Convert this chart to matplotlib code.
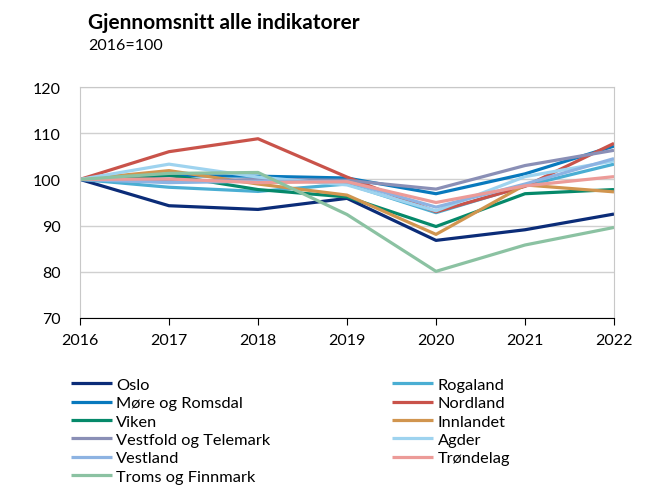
import numpy as np
import matplotlib
matplotlib.use("Agg")
import matplotlib.pyplot as plt

plt.rcParams['font.family'] = ['Lato', 'DejaVu Sans']

years = [2016, 2017, 2018, 2019, 2020, 2021, 2022]

# fylker i samme rekkefolge som tegnforklaringen (rad for rad)
oslo = [100, 94.3, 93.5, 95.9, 86.8, 89.1, 92.5]
rogaland = [100, 98.3, 97.4, 99.0, 92.8, 98.6, 103.3]
more_romsdal = [100, 100.8, 100.7, 100.3, 96.9, 101.2, 107.2]
nordland = [100, 106.0, 108.8, 100.5, 93.0, 98.5, 107.8]
viken = [100, 100.9, 97.8, 96.2, 89.8, 96.9, 97.8]
innlandet = [100, 101.9, 99.0, 96.6, 88.1, 98.8, 97.3]
vestfold_telemark = [100, 99.5, 100.0, 99.8, 97.9, 103.0, 106.3]
agder = [100, 103.3, 100.5, 98.8, 93.2, 100.6, 104.0]
vestland = [100, 99.3, 99.6, 99.5, 94.0, 99.0, 104.5]
trondelag = [100, 100.1, 99.3, 99.5, 95.0, 98.6, 100.6]
troms_finnmark = [100, 101.3, 101.5, 92.4, 80.1, 85.8, 89.6]

series = [
    ("Oslo", oslo, "#0b2c78"),
    ("Rogaland", rogaland, "#4aaed3"),
    ("Møre og Romsdal", more_romsdal, "#0879bd"),
    ("Nordland", nordland, "#c9534a"),
    ("Viken", viken, "#05896a"),
    ("Innlandet", innlandet, "#d1954f"),
    ("Vestfold og Telemark", vestfold_telemark, "#8a8fb6"),
    ("Agder", agder, "#9ed3ef"),
    ("Vestland", vestland, "#8db3e2"),
    ("Trøndelag", trondelag, "#ec9b98"),
    ("Troms og Finnmark", troms_finnmark, "#8bc2a2"),
]

fig = plt.figure(figsize=(6.49, 4.89), dpi=100)
ax = fig.add_axes([80/649, 1 - 319/489, (614-80)/649, (319-88)/489])

lines = {}
for name, vals, col in series:
    l, = ax.plot(years, vals, color=col, lw=2.3, label=name, solid_capstyle='butt')
    lines[name] = l

ax.set_xlim(2016, 2022)
ax.set_ylim(70, 120)
ax.set_yticks(np.arange(70, 121, 10))
ax.set_xticks(years)
ax.yaxis.grid(True, color='#d0d0d0', lw=1)
ax.set_axisbelow(True)
for s in ['left', 'right', 'top']:
    ax.spines[s].set_color('#c8c8c8')
ax.spines['bottom'].set_color('black')
ax.tick_params(axis='y', length=0, labelsize=11.5, pad=14)
ax.tick_params(axis='x', length=5, direction='out', labelsize=11.5, pad=6)

fig.text(88/649, 1 - 23/489, "Gjennomsnitt alle indikatorer", fontsize=15, fontweight='bold', va='center')
fig.text(88/649, 1 - 46/489, "2016=100", fontsize=11.5, va='center')

left = ["Oslo", "Møre og Romsdal", "Viken", "Vestfold og Telemark", "Vestland", "Troms og Finnmark"]
right = ["Rogaland", "Nordland", "Innlandet", "Agder", "Trøndelag"]
order = left + right
fig.legend([lines[n] for n in order], order, ncol=2, loc='upper left',
           bbox_to_anchor=(64/649, 1 - 372/489), frameon=False, fontsize=11.8,
           handlelength=2.5, handletextpad=0.3, labelspacing=0.235,
           columnspacing=7.4, borderaxespad=0)

fig.savefig("out.png", dpi=100)
